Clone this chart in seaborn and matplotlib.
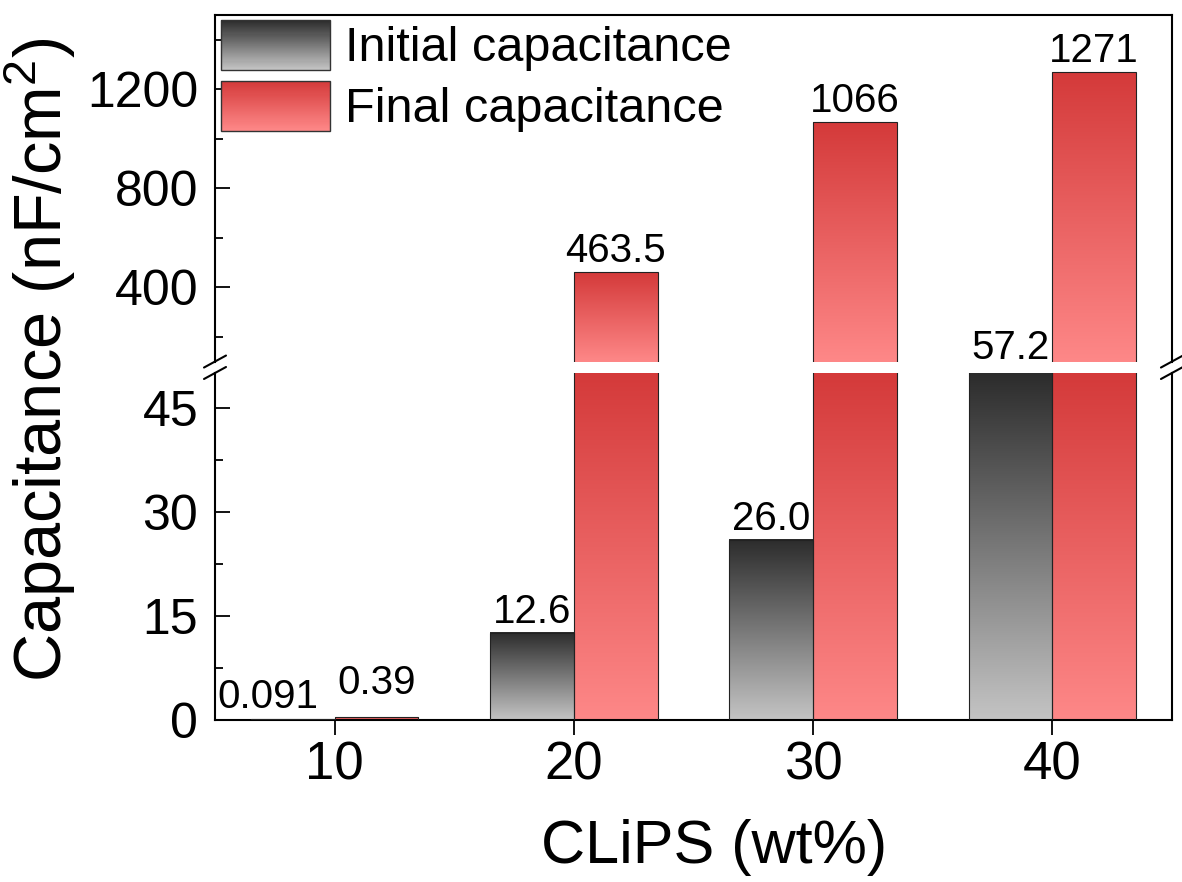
import numpy as np
import pandas as pd
import matplotlib
matplotlib.use("Agg")
import matplotlib.pyplot as plt
import seaborn as sns
from matplotlib.colors import LinearSegmentedColormap
from matplotlib.patches import Rectangle, Patch
from matplotlib.legend_handler import HandlerBase
from matplotlib.ticker import MultipleLocator

# ---- data -------------------------------------------------------------
wt_percent = [10, 20, 30, 40]
initial_cap = [0.091, 12.6, 26.0, 57.2]
final_cap = [0.39, 463.5, 1066, 1271]
initial_text = ["0.091", "12.6", "26.0", "57.2"]
final_text = ["0.39", "463.5", "1066", "1271"]
series_names = ["Initial capacitance", "Final capacitance"]

df = pd.DataFrame({
    "wt": wt_percent * 2,
    "cap": initial_cap + final_cap,
    "series": [series_names[0]] * len(wt_percent) + [series_names[1]] * len(wt_percent),
})

# ---- style ------------------------------------------------------------
sns.set_style("ticks")
plt.rcParams["font.family"] = ["Liberation Sans", "DejaVu Sans"]
plt.rcParams["mathtext.default"] = "regular"
for key in ("text.color", "axes.labelcolor", "xtick.color", "ytick.color", "axes.edgecolor"):
    plt.rcParams[key] = "black"

gray_cmap = LinearSegmentedColormap.from_list("gray_grad", ["#c4c4c4", "#2c2c2c"])
red_cmap = LinearSegmentedColormap.from_list("red_grad", ["#fe8888", "#d43a3a"])
cmaps = [gray_cmap, red_cmap]

fig = plt.figure(figsize=(11.82, 8.82), dpi=100)
ax_hi = fig.add_axes([0.1819, 0.5901, 0.8096, 0.3929])
ax_lo = fig.add_axes([0.1819, 0.1837, 0.8096, 0.3934])

lo_lim = (0, 50)
hi_lim = (100, 1500)
x_lim = (5, 45)

gradient = np.linspace(0, 1, 256).reshape(-1, 1)

# ---- bars on both halves of the broken axis --------------------------
for ax, ylim in ((ax_hi, hi_lim), (ax_lo, lo_lim)):
    sns.barplot(data=df, x="wt", y="cap", hue="series", hue_order=series_names,
                native_scale=True, width=0.7, errorbar=None,
                palette=["#808080", "#e06060"], edgecolor="#222222",
                linewidth=0.8, legend=False, ax=ax)
    for container, cmap in zip(ax.containers, cmaps):
        for bar in container.patches:
            x0, w = bar.get_x(), bar.get_width()
            lo = max(ylim[0], bar.get_y())
            hi = min(ylim[1], bar.get_y() + bar.get_height())
            bar.set_facecolor("none")
            bar.set_zorder(3)
            if hi <= lo:
                continue
            ax.imshow(gradient, cmap=cmap, origin="lower", aspect="auto",
                      extent=(x0, x0 + w, lo, hi), zorder=2,
                      interpolation="bilinear")
    ax.set_xlim(*x_lim)
    ax.set_ylim(*ylim)
    ax.set_xlabel("")
    ax.set_ylabel("")
    for side in ("left", "right", "top", "bottom"):
        ax.spines[side].set_linewidth(1.5)
    ax.tick_params(axis="y", which="major", direction="in", length=11,
                   width=1.3, labelsize=36, pad=12, right=False)
    ax.tick_params(axis="y", which="minor", direction="in", length=5.5,
                   width=1.3, right=False)

ax_hi.spines["bottom"].set_visible(False)
ax_lo.spines["top"].set_visible(False)
ax_hi.tick_params(axis="x", which="both", bottom=False, top=False, labelbottom=False)
ax_lo.tick_params(axis="x", which="major", direction="out", length=11,
                  width=1.3, labelsize=38, pad=4, top=False)

ax_hi.yaxis.set_major_locator(MultipleLocator(400))
ax_hi.yaxis.set_minor_locator(MultipleLocator(200))
ax_lo.yaxis.set_major_locator(MultipleLocator(15))
ax_lo.yaxis.set_minor_locator(MultipleLocator(7.5))
ax_lo.set_xticks(wt_percent)
ax_lo.set_xticklabels([str(v) for v in wt_percent])

# ---- break marks ------------------------------------------------------
fig_w_px = 1182
ax_w_px = 0.8096 * fig_w_px
for ax, y_edge in ((ax_hi, 0.0), (ax_lo, 1.0)):
    h_px = ax.get_position().height * 882
    dx = 11 / ax_w_px
    dy = 6 / h_px
    for xa in (0.0, 1.0):
        ax.plot([xa - dx, xa + dx], [y_edge - dy, y_edge + dy],
                transform=ax.transAxes, color="black", lw=1.5,
                clip_on=False, zorder=5)

# ---- value labels -----------------------------------------------------
label_nudge = {(0, 0): (-18, 8), (1, 0): (0, 17), (0, 3): (0, 1.5)}
for s, (values, texts) in enumerate(((initial_cap, initial_text), (final_cap, final_text))):
    bars = ax_lo.containers[s].patches
    for j, (val, txt) in enumerate(zip(values, texts)):
        xc = bars[j].get_x() + bars[j].get_width() / 2
        if val <= lo_lim[1]:
            target, y = ax_lo, val
        elif val >= hi_lim[0]:
            target, y = ax_hi, val
        else:
            target, y = ax_hi, hi_lim[0]
        dxo, dyo = label_nudge.get((s, j), (0, 7.2))
        target.annotate(txt, xy=(xc, y), xytext=(dxo, dyo),
                        textcoords="offset points", ha="center",
                        va="baseline", fontsize=29, annotation_clip=False,
                        zorder=6)


# ---- legend with gradient swatches -----------------------------------
class GradientHandler(HandlerBase):
    def __init__(self, cmap, n=48):
        super().__init__()
        self.cmap = cmap
        self.n = n

    def create_artists(self, legend, orig_handle, xdescent, ydescent,
                       width, height, fontsize, trans):
        arts = []
        for i in range(self.n):
            arts.append(Rectangle((-xdescent, -ydescent + height * i / self.n),
                                  width, height / self.n * 1.05,
                                  facecolor=self.cmap(i / (self.n - 1)),
                                  edgecolor="none", transform=trans))
        arts.append(Rectangle((-xdescent, -ydescent), width, height,
                              fill=False, edgecolor="#333333", lw=1.0,
                              transform=trans))
        return arts


handles = [Patch(label=series_names[0]), Patch(label=series_names[1])]
ax_hi.legend(handles=handles, labels=series_names,
             handler_map={handles[0]: GradientHandler(gray_cmap),
                          handles[1]: GradientHandler(red_cmap)},
             loc="upper left", bbox_to_anchor=(221 / 1182, 1 - 20 / 882),
             bbox_transform=fig.transFigure, frameon=False, fontsize=35,
             handlelength=2.25, handleheight=1.2, labelspacing=0.2,
             handletextpad=0.3, borderpad=0, borderaxespad=0)

# ---- axis titles ------------------------------------------------------
fig.text(40 / 1182, 1 - 360 / 882, "Capacitance (nF/cm$^{2}$)", rotation=90,
         ha="center", va="center", fontsize=48)
fig.text(714 / 1182, 1 - 848 / 882, "CLiPS (wt%)", ha="center",
         va="center", fontsize=44)

fig.savefig("out.png", dpi=100)
